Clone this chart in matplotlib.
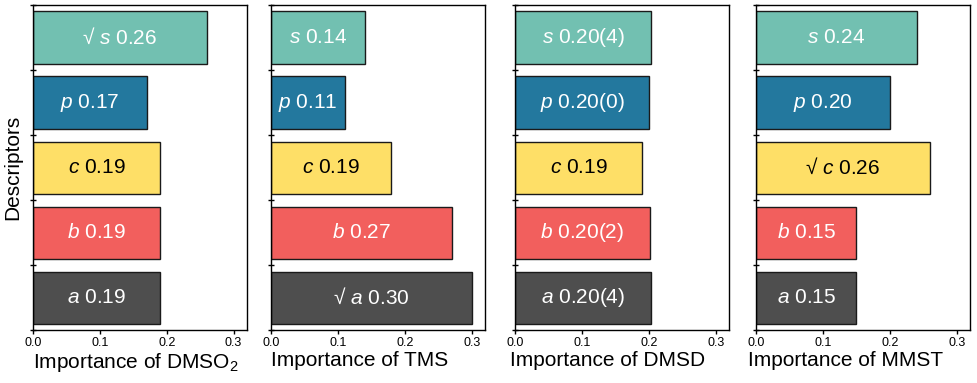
import matplotlib
matplotlib.use("Agg")
import matplotlib.pyplot as plt
import numpy as np

plt.rcParams['font.family'] = ['Liberation Sans', 'DejaVu Sans']
plt.rcParams['mathtext.fontset'] = 'custom'
plt.rcParams['mathtext.rm'] = 'Liberation Sans'
plt.rcParams['mathtext.it'] = 'Liberation Sans:italic'

# descriptors, bottom to top
descriptors = ['a', 'b', 'c', 'p', 's']
colors = ['#4E4E4E', '#F25F5D', '#FEDF67', '#23789E', '#72C0B1']
text_colors = ['white', 'white', 'black', 'white', 'white']

solvents = ['DMSO$_2$', 'TMS', 'DMSD', 'MMST']

dmso2_vals = [0.19, 0.19, 0.19, 0.17, 0.26]
tms_vals = [0.30, 0.27, 0.18, 0.11, 0.14]
dmsd_vals = [0.204, 0.202, 0.19, 0.200, 0.204]
mmst_vals = [0.15, 0.15, 0.26, 0.20, 0.24]

dmso2_labels = ['0.19', '0.19', '0.19', '0.17', '0.26']
tms_labels = ['0.30', '0.27', '0.19', '0.11', '0.14']
dmsd_labels = ['0.20(4)', '0.20(2)', '0.19', '0.20(0)', '0.20(4)']
mmst_labels = ['0.15', '0.15', '0.26', '0.20', '0.24']

# selected descriptor (marked with a root sign) per panel
selected = ['s', 'a', None, 'c']

all_vals = [dmso2_vals, tms_vals, dmsd_vals, mmst_vals]
all_labels = [dmso2_labels, tms_labels, dmsd_labels, mmst_labels]

fig = plt.figure(figsize=(9.77, 3.83), dpi=100)
lefts = [33, 271, 515, 756]
label_shift = [0, 0, -5, -8]
W, H = 977, 383

for k in range(4):
    ax = fig.add_axes([lefts[k] / W, 1 - 330 / H, 214 / W, 325 / H])
    y = np.arange(len(descriptors))
    ax.barh(y, all_vals[k], height=0.8, color=colors, edgecolor='#1a1a1a', linewidth=1)
    for i, d in enumerate(descriptors):
        txt = r'$\mathit{' + d + '}$ ' + all_labels[k][i]
        if selected[k] == d:
            txt = '√ ' + txt
        ax.text(all_vals[k][i] / 2, i, txt, ha='center', va='center',
                color=text_colors[i], fontsize=15)
    ax.set_xlim(0, 0.32)
    ax.set_ylim(-0.5, 4.5)
    ax.set_xticks([0.0, 0.1, 0.2, 0.3])
    ax.set_xticklabels(['0.0', '0.1', '0.2', '0.3'])
    ax.set_yticks(np.arange(-0.5, 5, 1.0))
    ax.set_yticklabels([])
    ax.tick_params(axis='y', direction='inout', length=5, width=1)
    ax.tick_params(axis='x', direction='out', length=3, width=1, labelsize=9, pad=2)
    for sp in ax.spines.values():
        sp.set_linewidth(1)
    ax.set_xlabel('Importance of ' + solvents[k], fontsize=15, ha='left')
    ax.xaxis.set_label_coords(label_shift[k] / 214, -0.065)
    ax.xaxis.label.set_va('top')
    if k == 0:
        ax.set_ylabel('Descriptors', fontsize=15, labelpad=2)

plt.savefig('out.png', dpi=100)
plt.close()
